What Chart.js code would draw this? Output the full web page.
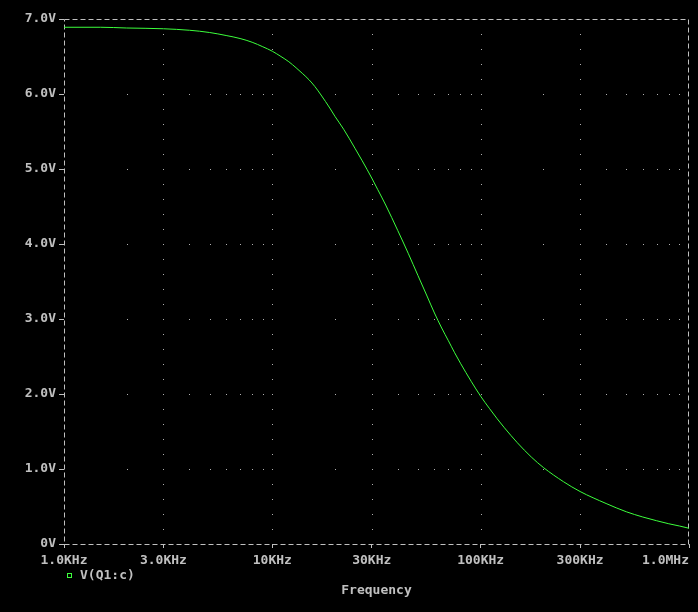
<!DOCTYPE html>
<html>
<head>
<meta charset="utf-8">
<title>V(Q1:c) vs Frequency</title>
<script src="https://cdn.jsdelivr.net/npm/chart.js@4/dist/chart.umd.min.js"></script>
<style>
  html, body { margin: 0; padding: 0; background: #000; }
  #plot { display: block; }
</style>
</head>
<body>
<canvas id="plot" width="698" height="612"></canvas>
<script>
// frequency points (Hz) and the voltage
var freqs = [1000, 1500, 2000, 3000, 4000, 5000, 6000, 7000, 8000, 9000, 10000,
	11000, 12000, 13000, 14000, 15000, 16000, 17000, 18000, 19000, 20000,
	22000, 25000, 27000, 30000, 32000, 35000, 40000, 45000, 50000, 55000,
	60000, 65000, 70000, 75000, 80000, 90000, 100000, 110000, 120000, 130000,
	150000, 175000, 200000, 250000, 300000, 400000, 500000, 600000,
	700000, 800000, 900000, 1000000];
var volts = [6.89, 6.89, 6.88, 6.87, 6.85, 6.82, 6.78, 6.74, 6.69, 6.63, 6.57,
	6.50, 6.43, 6.35, 6.27, 6.19, 6.10, 6.00, 5.90, 5.80, 5.70,
	5.53, 5.27, 5.11, 4.88, 4.73, 4.52, 4.18, 3.87, 3.58, 3.32,
	3.08, 2.88, 2.71, 2.55, 2.41, 2.17, 1.97, 1.81, 1.67, 1.55,
	1.35, 1.16, 1.02, 0.83, 0.70, 0.54, 0.43, 0.36,
	0.31, 0.27, 0.24, 0.21];

var xTickValues = [1000, 3000, 10000, 30000, 100000, 300000, 1000000];
var xTickLabels = ["1.0KHz", "3.0KHz", "10KHz", "30KHz", "100KHz", "300KHz", "1.0MHz      "];
var yTickValues = [0, 1, 2, 3, 4, 5, 6, 7];
var yTickLabels = ["0V", "1.0V", "2.0V", "3.0V", "4.0V", "5.0V", "6.0V", "7.0V"];
var traceName = "V(Q1:c)";

var textGray = "#c0c0c0";
var dotGray = "#b0b0b0";
var traceGreen = "#3cff3c";
var monoFont = { family: "'DejaVu Sans Mono', monospace", size: 13, weight: "bold" };

//dotted grid, dashed frame and the legend entry, probe style
var probeFrame = {
	id: "probeFrame",
	beforeDatasetsDraw: function (chart) {
		var ctx = chart.ctx;
		var area = chart.chartArea;
		var xs = chart.scales.x, ys = chart.scales.y;
		ctx.save();
		ctx.fillStyle = dotGray;
		//horizontal rows: a dot on every 1..9 decade step
		for (var i = 1; i < yTickValues.length - 1; i++) {
			var py = Math.round(ys.getPixelForValue(yTickValues[i]));
			for (var d = 1000; d < 1000000; d *= 10) {
				for (var k = 1; k < 10; k++) {
					var v = d * k;
					if (v <= xTickValues[0] || v >= xTickValues[xTickValues.length - 1]) continue;
					ctx.fillRect(Math.round(xs.getPixelForValue(v)), py, 1, 1);
				}
			}
		}
		//vertical columns: a dot every 0.2V on each labelled frequency
		for (var j = 1; j < xTickValues.length - 1; j++) {
			var px = Math.round(xs.getPixelForValue(xTickValues[j]));
			for (var s = 1; s < 35; s++) {
				ctx.fillRect(px, Math.round(ys.getPixelForValue(s * 0.2)), 1, 1);
			}
		}
		//dashed frame
		ctx.strokeStyle = textGray;
		ctx.lineWidth = 1;
		ctx.setLineDash([5, 3]);
		ctx.strokeRect(Math.round(area.left) + 0.5, Math.round(area.top) + 0.5,
			Math.round(area.right - area.left) - 1, Math.round(area.bottom - area.top));
		ctx.restore();
	},
	afterDraw: function (chart) {
		var ctx = chart.ctx;
		ctx.save();
		ctx.strokeStyle = traceGreen;
		ctx.lineWidth = 1;
		ctx.strokeRect(67.5, 573.5, 4, 4);
		ctx.fillStyle = textGray;
		ctx.font = "bold 13px 'DejaVu Sans Mono', monospace";
		ctx.textAlign = "left";
		ctx.textBaseline = "middle";
		ctx.fillText(traceName, 80, 576);
		ctx.restore();
	}
};

var plotChart = new Chart(document.getElementById("plot"), {
	type: "line",
	data: {
		datasets: [{
			label: traceName,
			data: freqs.map(function (f, i) { return { x: f, y: volts[i] }; }),
			borderColor: traceGreen,
			borderWidth: 1,
			pointRadius: 0,
			fill: false,
			cubicInterpolationMode: "monotone"
		}]
	},
	options: {
		responsive: false,
		animation: false,
		layout: { padding: { left: 0, top: 19, right: 9, bottom: 0 } },
		plugins: {
			legend: { display: false },
			tooltip: { enabled: false }
		},
		scales: {
			x: {
				type: "logarithmic",
				min: 1000,
				max: 1000000,
				afterBuildTicks: function (scale) {
					scale.ticks = xTickValues.map(function (v) { return { value: v }; });
				},
				afterFit: function (scale) {
					scale.height = 68;
					scale.paddingLeft = 0;
					scale.paddingRight = 0;
				},
				ticks: {
					autoSkip: false,
					maxRotation: 0,
					minRotation: 0,
					padding: 5,
					color: textGray,
					font: monoFont,
					callback: function (value, index) { return xTickLabels[index]; }
				},
				grid: {
					drawOnChartArea: false,
					tickLength: 4,
					color: textGray
				},
				border: { display: false },
				title: {
					display: true,
					text: "Frequency",
					color: textGray,
					font: monoFont,
					padding: { top: 0, bottom: 14 }
				}
			},
			y: {
				min: 0,
				max: 7,
				afterBuildTicks: function (scale) {
					scale.ticks = yTickValues.map(function (v) { return { value: v }; });
				},
				afterFit: function (scale) {
					scale.width = 64;
					scale.paddingTop = 0;
					scale.paddingBottom = 0;
				},
				ticks: {
					padding: 3,
					color: textGray,
					font: monoFont,
					callback: function (value, index) { return yTickLabels[index]; }
				},
				grid: {
					drawOnChartArea: false,
					tickLength: 5,
					color: textGray
				},
				border: { display: false }
			}
		}
	},
	plugins: [probeFrame]
});
</script>
</body>
</html>
